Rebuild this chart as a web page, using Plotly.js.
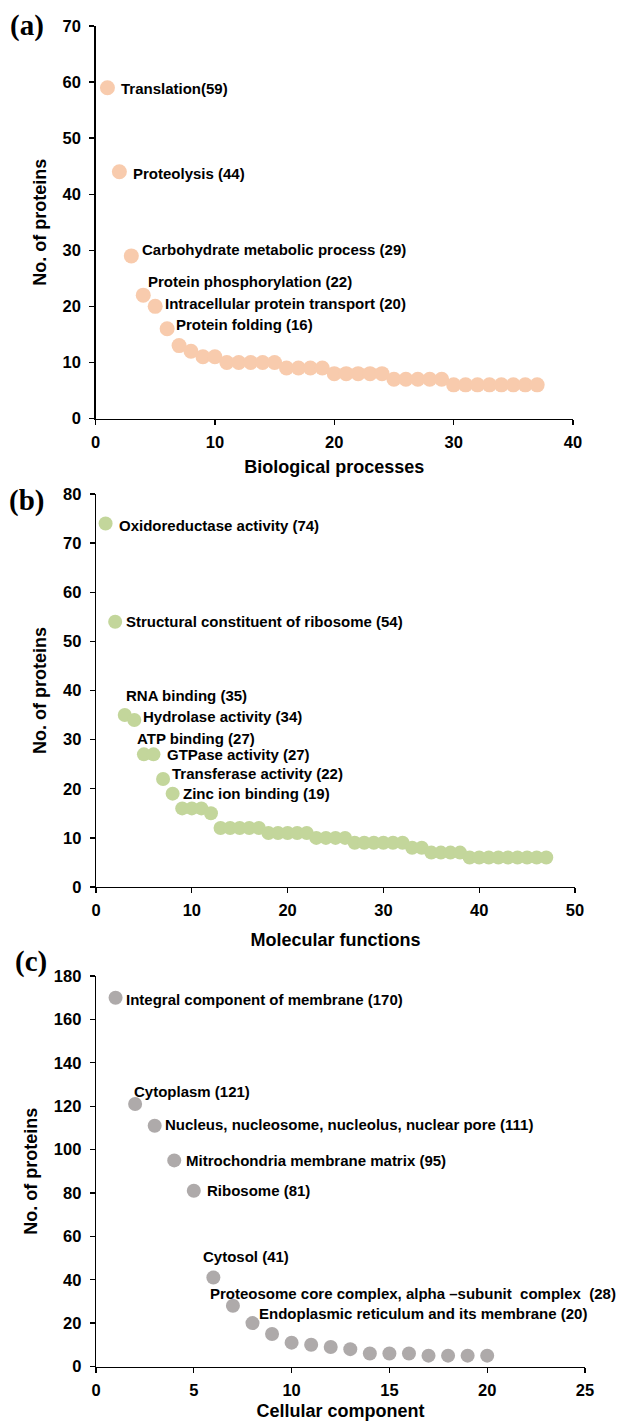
<!DOCTYPE html>
<html><head><meta charset="utf-8">
<script src="https://cdn.plot.ly/plotly-3.0.1.min.js"></script>
<style>html,body{margin:0;padding:0;background:#fff}#chart{width:642px;height:1421px}</style>
</head><body><div id="chart"></div>
<script>
// ---- Data ----
const bpRank = [1,2,3,4,5,6,7,8,9,10,11,12,13,14,15,16,17,18,19,20,21,22,23,24,25,26,27,28,29,30,31,32,33,34,35,36,37];
const bpCounts = [59,44,29,22,20,16,13,12,11,11,10,10,10,10,10,9,9,9,9,8,8,8,8,8,7,7,7,7,7,6,6,6,6,6,6,6,6];
const bpLabels = ["Translation(59)","Proteolysis (44)","Carbohydrate metabolic process (29)","Protein phosphorylation (22)","Intracellular protein transport (20)","Protein folding (16)"];

const mfRank = [1,2,3,4,5,6,7,8,9,10,11,12,13,14,15,16,17,18,19,20,21,22,23,24,25,26,27,28,29,30,31,32,33,34,35,36,37,38,39,40,41,42,43,44,45,46,47];
const mfCounts = [74,54,35,34,27,27,22,19,16,16,16,15,12,12,12,12,12,11,11,11,11,11,10,10,10,10,9,9,9,9,9,9,8,8,7,7,7,7,6,6,6,6,6,6,6,6,6];
const mfLabels = ["Oxidoreductase activity (74)","Structural constituent of ribosome (54)","RNA binding (35)","Hydrolase activity (34)","ATP binding (27)","GTPase activity (27)","Transferase activity (22)","Zinc ion binding (19)"];

const ccRank = [1,2,3,4,5,6,7,8,9,10,11,12,13,14,15,16,17,18,19,20];
const ccCounts = [170,121,111,95,81,41,28,20,15,11,10,9,8,6,6,6,5,5,5,5];
const ccLabels = ["Integral component of membrane (170)","Cytoplasm (121)","Nucleus, nucleosome, nucleolus, nuclear pore (111)","Mitrochondria membrane matrix (95)","Ribosome (81)","Cytosol (41)","Proteosome core complex, alpha \u2013subunit\u00a0 complex\u00a0 (28)","Endoplasmic reticulum and its membrane (20)"];

const xTitles = ["Biological processes","Molecular functions","Cellular component"];
const yTitle = "No. of proteins";
const panelTags = ["(a)","(b)","(c)"];

// ---- Style / placement ----
const W = 642, H = 1421;
const fx = p => p / W, fy = p => 1 - p / H;
// label offsets in screen px: [dx from point centre to text left, dy (down) from point centre to text centre]
const bpOff = [[13,1],[13,2],[10,-6],[4,-14],[9,-3],[8,-4]];
const mfOff = [[12,2],[10,0],[0,-20],[8,-3],[-8,-16],[13,0],[8,-5],[9,0]];
const ccOff = [[9,2],[-2,-13],[9,-1],[11,0],[12,0],[-11,-21],[-24,-12],[6,-10]];

const FONT = "Liberation Sans, Arial, sans-serif";
const tickFont = {family: FONT, size: 16.5, color: "#000", weight: "bold"};
const titleFont = {family: FONT, size: 18, color: "#000", weight: "bold"};
const labFont = {family: FONT, size: 15, color: "#000", weight: "bold"};

function axisX(domain, range, dtick, title, standoff, anchor) {
  return {domain: domain, range: range, dtick: dtick, tick0: 0, anchor: anchor,
    showgrid: false, zeroline: false, showline: true, linecolor: "#000", linewidth: 1.3,
    ticks: "outside", ticklen: 5, tickwidth: 1.3, tickcolor: "#000", tickfont: tickFont,
    ticklabelstandoff: 3, fixedrange: true,
    title: {text: title, font: titleFont, standoff: standoff}};
}
function axisY(domain, range, dtick, anchor) {
  return {domain: domain, range: range, dtick: dtick, tick0: 0, anchor: anchor,
    showgrid: false, zeroline: false, showline: true, linecolor: "#000", linewidth: 1.3,
    ticks: "outside", ticklen: 5, tickwidth: 1.3, tickcolor: "#000", tickfont: tickFont,
    ticklabelstandoff: 5, fixedrange: true,
    title: {text: yTitle, font: titleFont, standoff: 11}};
}

const traces = [
  {x: bpRank, y: bpCounts, xaxis: "x", yaxis: "y", type: "scatter", mode: "markers",
   marker: {size: 15, color: "#F8CBAD"}, cliponaxis: false, hoverinfo: "x+y"},
  {x: mfRank, y: mfCounts, xaxis: "x2", yaxis: "y2", type: "scatter", mode: "markers",
   marker: {size: 14, color: "#C3D69B"}, cliponaxis: false, hoverinfo: "x+y"},
  {x: ccRank, y: ccCounts, xaxis: "x3", yaxis: "y3", type: "scatter", mode: "markers",
   marker: {size: 14, color: "#AEAAAA"}, cliponaxis: false, hoverinfo: "x+y"}
];

const annotations = [];
function addLabels(labels, xs, ys, offs, xr, yr) {
  labels.forEach((t, i) => {
    annotations.push({text: t, x: xs[i], y: ys[i], xref: xr, yref: yr,
      xanchor: "left", yanchor: "middle", showarrow: false, borderpad: 0,
      xshift: offs[i][0], yshift: -offs[i][1], font: labFont});
  });
}
addLabels(bpLabels, bpRank, bpCounts, bpOff, "x", "y");
addLabels(mfLabels, mfRank, mfCounts, mfOff, "x2", "y2");
addLabels(ccLabels, ccRank, ccCounts, ccOff, "x3", "y3");

const tagPos = [[27, 26], [26, 500], [31, 961]];
panelTags.forEach((t, i) => {
  annotations.push({text: t, xref: "paper", yref: "paper", x: fx(tagPos[i][0]), y: fy(tagPos[i][1]),
    xanchor: "center", yanchor: "middle", showarrow: false,
    font: {family: "Liberation Serif, Times New Roman, serif", size: 29, color: "#000", weight: "bold"}});
});

const layout = {
  width: W, height: H, margin: {l: 0, r: 0, t: 0, b: 0},
  paper_bgcolor: "#fff", plot_bgcolor: "#fff", showlegend: false,
  xaxis: axisX([fx(95.5), fx(573)], [0, 40], 10, xTitles[0], 10, "y"),
  yaxis: axisY([fy(418.5), fy(26)], [0, 70], 10, "x"),
  xaxis2: axisX([fx(96), fx(575)], [0, 50], 10, xTitles[1], 15, "y2"),
  yaxis2: axisY([fy(887), fy(494)], [0, 80], 10, "x2"),
  xaxis3: axisX([fx(96), fx(585)], [0, 25], 5, xTitles[2], 9, "y3"),
  yaxis3: axisY([fy(1366.5), fy(976)], [0, 180], 20, "x3"),
  annotations: annotations
};

Plotly.newPlot("chart", traces, layout, {displayModeBar: false, staticPlot: true});
</script>
</body></html>
